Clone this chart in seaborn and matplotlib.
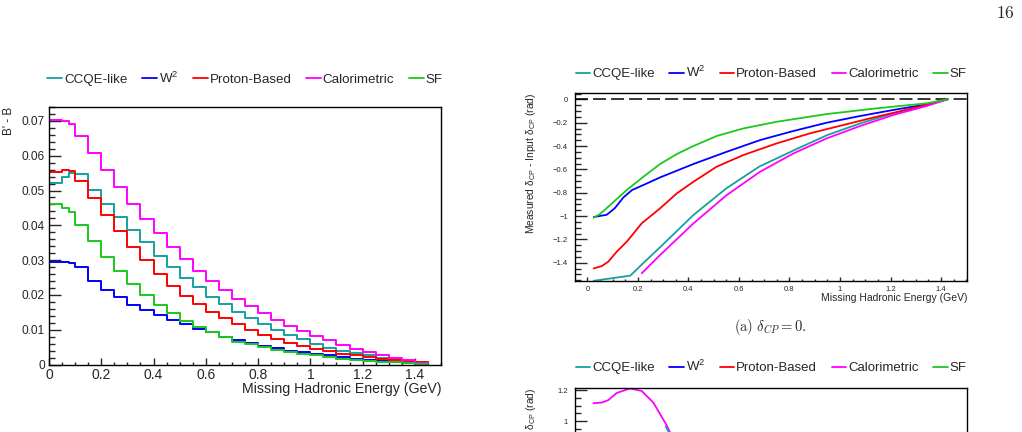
import matplotlib
matplotlib.use("Agg")
import matplotlib.pyplot as plt
from matplotlib.lines import Line2D
from matplotlib.ticker import MultipleLocator, FixedLocator, FuncFormatter
import seaborn as sns

# series names / colours (same order everywhere)
names = ["CCQE-like", r"W$^{\mathregular{2}}$", "Proton-Based", "Calorimetric", "SF"]
colors = ["#17a0a0", "#0000ff", "#ff0000", "#ff00ff", "#1cc81c"]

###############################################################################
# Left panel: B' - B vs missing hadronic energy (histogram bins)
edges = [0.0, 0.05, 0.075, 0.1, 0.15, 0.2, 0.25, 0.3, 0.35, 0.4, 0.45, 0.5,
         0.55, 0.6, 0.65, 0.7, 0.75, 0.8, 0.85, 0.9, 0.95, 1.0, 1.05, 1.1,
         1.15, 1.2, 1.25, 1.3, 1.35, 1.4, 1.45]

ccqe_hist = [0.0521, 0.0540, 0.0550, 0.0548, 0.0502, 0.0461, 0.0423, 0.0386,
             0.0353, 0.0312, 0.0280, 0.0250, 0.0222, 0.0195, 0.0173, 0.0152,
             0.0133, 0.0116, 0.0100, 0.0086, 0.0072, 0.0058, 0.0048, 0.0040,
             0.0032, 0.0026, 0.0020, 0.0015, 0.0011, 0.0006]
w2_hist = [0.0295, 0.0294, 0.0293, 0.0280, 0.0240, 0.0214, 0.0193, 0.0171,
           0.0156, 0.0143, 0.0128, 0.0116, 0.0103, 0.0093, 0.0080, 0.0071,
           0.0063, 0.0053, 0.0047, 0.0040, 0.0035, 0.0031, 0.0027, 0.0021,
           0.0017, 0.0013, 0.0010, 0.0008, 0.0005, 0.0002]
proton_hist = [0.0553, 0.0558, 0.0555, 0.0526, 0.0478, 0.0430, 0.0383, 0.0337,
               0.0301, 0.0260, 0.0227, 0.0197, 0.0173, 0.0150, 0.0133, 0.0116,
               0.0099, 0.0085, 0.0073, 0.0061, 0.0052, 0.0044, 0.0038, 0.0031,
               0.0026, 0.0021, 0.0017, 0.0013, 0.0009, 0.0006]
calo_hist = [0.0704, 0.0701, 0.0691, 0.0658, 0.0609, 0.0560, 0.0510, 0.0462,
             0.0417, 0.0377, 0.0337, 0.0303, 0.0270, 0.0241, 0.0214, 0.0189,
             0.0167, 0.0147, 0.0128, 0.0111, 0.0097, 0.0082, 0.0071, 0.0056,
             0.0045, 0.0035, 0.0027, 0.0019, 0.0012, 0.0005]
sf_hist = [0.0462, 0.0451, 0.0437, 0.0401, 0.0355, 0.0309, 0.0270, 0.0232,
           0.0200, 0.0171, 0.0147, 0.0125, 0.0108, 0.0092, 0.0078, 0.0066,
           0.0058, 0.0050, 0.0042, 0.0037, 0.0031, 0.0026, 0.0021, 0.0017,
           0.0013, 0.0009, 0.0008, 0.0006, 0.0003, 0.0002]

###############################################################################
# Right top panel: bias for delta_CP = 0
ccqe_x = [0.025, 0.17, 0.22, 0.29, 0.42, 0.55, 0.68, 0.82, 0.95, 1.08, 1.21, 1.34, 1.425]
ccqe_y = [-1.555, -1.511, -1.406, -1.263, -0.991, -0.763, -0.577, -0.434, -0.306,
          -0.206, -0.120, -0.049, 0.0]
w2_x = [0.025, 0.077, 0.108, 0.143, 0.177, 0.222, 0.288, 0.42, 0.552, 0.684,
        0.816, 0.948, 1.079, 1.211, 1.343, 1.425]
w2_y = [-1.009, -0.989, -0.934, -0.840, -0.777, -0.734, -0.669, -0.554, -0.449,
        -0.349, -0.271, -0.200, -0.143, -0.091, -0.043, 0.0]
proton_x = [0.025, 0.057, 0.083, 0.116, 0.156, 0.215, 0.288, 0.354, 0.42, 0.512,
            0.618, 0.75, 0.882, 1.013, 1.145, 1.277, 1.425]
proton_y = [-1.449, -1.429, -1.391, -1.306, -1.220, -1.063, -0.934, -0.806, -0.706,
            -0.577, -0.477, -0.377, -0.291, -0.220, -0.149, -0.083, 0.0]
calo_x = [0.215, 0.288, 0.42, 0.552, 0.684, 0.816, 0.948, 1.079, 1.211, 1.343, 1.425]
calo_y = [-1.491, -1.334, -1.063, -0.820, -0.620, -0.463, -0.334, -0.229, -0.134,
          -0.057, 0.0]
sf_x = [0.025, 0.05, 0.09, 0.156, 0.222, 0.288, 0.354, 0.42, 0.512, 0.618, 0.75,
        0.948, 1.145, 1.343, 1.425]
sf_y = [-1.015, -0.983, -0.906, -0.777, -0.663, -0.554, -0.469, -0.400, -0.314,
        -0.249, -0.192, -0.126, -0.077, -0.034, 0.0]

###############################################################################
# Right bottom panel (only its top part is on the page)
calo2_x = [0.024, 0.057, 0.083, 0.116, 0.169, 0.215, 0.261, 0.314, 0.334]
calo2_y = [1.116, 1.120, 1.136, 1.182, 1.211, 1.195, 1.120, 0.973, 0.904]
ccqe2_x = [0.310, 0.336]
ccqe2_y = [0.966, 0.890]
bottom_yticks = [1.0, 1.2]

###############################################################################
sns.set_style("ticks")
plt.rcParams["font.family"] = ["Liberation Sans", "DejaVu Sans"]
plt.rcParams["axes.linewidth"] = 1.0

W, H = 1022, 432
fig = plt.figure(figsize=(W / 100, H / 100), dpi=100)


def px_axes(x0, x1, ytop, ybot):
    return fig.add_axes([x0 / W, 1 - ybot / H, (x1 - x0) / W, (ybot - ytop) / H])


def fmt(v, _):
    s = f"{v:g}"
    return s.replace("-", "\u2212")


def root_axes(ax, xmaj, xmin, ymaj, ymin, xlen, ylen, xsize, ysize, xpad, ypad):
    ax.xaxis.set_major_locator(MultipleLocator(xmaj))
    ax.xaxis.set_minor_locator(MultipleLocator(xmin))
    ax.yaxis.set_major_locator(MultipleLocator(ymaj))
    ax.yaxis.set_minor_locator(MultipleLocator(ymin))
    ax.xaxis.set_major_formatter(FuncFormatter(fmt))
    ax.yaxis.set_major_formatter(FuncFormatter(fmt))
    ax.tick_params(axis="x", which="both", direction="in", top=False, bottom=True,
                   labelsize=xsize, pad=xpad, width=1.0)
    ax.tick_params(axis="y", which="both", direction="in", right=False, left=True,
                   labelsize=ysize, pad=ypad, width=1.0)
    ax.tick_params(axis="x", which="major", length=xlen)
    ax.tick_params(axis="x", which="minor", length=xlen / 2)
    ax.tick_params(axis="y", which="major", length=ylen)
    ax.tick_params(axis="y", which="minor", length=ylen / 2)
    for sp in ax.spines.values():
        sp.set_visible(True)
        sp.set_color("black")


def add_legend(ax, y, size):
    handles = [Line2D([], [], color=c, lw=1.3) for c in colors]
    ax.legend(handles, names, ncol=5, loc="center", bbox_to_anchor=(0.5, y),
              frameon=False, fontsize=size, handlelength=1.1, handletextpad=0.15,
              columnspacing=1.1, borderpad=0, borderaxespad=0)


# ---------------- left panel
ax1 = px_axes(49, 441, 107, 364.5)
centers = [(a + b) / 2 for a, b in zip(edges[:-1], edges[1:])]
for vals, c in zip([ccqe_hist, w2_hist, proton_hist, calo_hist, sf_hist], colors):
    sns.histplot(x=centers, weights=vals, bins=edges, element="step", fill=False,
                 color=c, lw=1.4, ax=ax1)
ax1.set_xlim(0, 1.5)
ax1.set_ylim(0, 0.074)
root_axes(ax1, 0.2, 0.05, 0.01, 0.002, 5, 8.6, 10, 8.6, 2.5, 3)
ax1.set_xlabel("Missing Hadronic Energy (GeV)", fontsize=10.2, loc="right")
ax1.xaxis.set_label_coords(1.0, -0.068)
ax1.set_ylabel("B' - B", fontsize=8.5, loc="top")
ax1.yaxis.set_label_coords(-0.086, 1.0)
add_legend(ax1, 1.113, 9.6)

# ---------------- right top panel
ax2 = px_axes(575, 967.3, 92.7, 281)
for xs, ys, c in zip([ccqe_x, w2_x, proton_x, calo_x, sf_x],
                     [ccqe_y, w2_y, proton_y, calo_y, sf_y], colors):
    sns.lineplot(x=xs, y=ys, color=c, lw=1.3, sort=False, estimator=None, ax=ax2)
ax2.axhline(0, color="black", lw=1.1, dashes=(8.5, 3.3), zorder=1)
ax2.set_xlim(-0.049, 1.504)
ax2.set_ylim(-1.557, 0.057)
root_axes(ax2, 0.2, 0.05, 0.2, 0.05, 3, 8.6, 5.5, 5.5, 3.5, 5)
ax2.set_xlabel("Missing Hadronic Energy (GeV)", fontsize=7.5, loc="right")
ax2.xaxis.set_label_coords(1.0, -0.064)
ylab = r"Measured $\mathregular{\delta_{CP}}$ - Input $\mathregular{\delta_{CP}}$ (rad)"
ax2.set_ylabel(ylab, fontsize=7.4, loc="top")
ax2.yaxis.set_label_coords(-0.094, 1.0)
add_legend(ax2, 1.106, 9.5)

# ---------------- right bottom panel (cut by the page edge)
ax3 = px_axes(575, 967.3, 387.7, 576)
sns.lineplot(x=calo2_x, y=calo2_y, color=colors[3], lw=1.3, sort=False,
             estimator=None, ax=ax3)
sns.lineplot(x=ccqe2_x, y=ccqe2_y, color=colors[0], lw=1.3, sort=False,
             estimator=None, ax=ax3)
ax3.set_xlim(-0.049, 1.504)
ax3.set_ylim(0.0, 1.216)
root_axes(ax3, 0.2, 0.05, 0.2, 0.05, 3, 8.6, 5.5, 5.5, 3.5, 5)
# only the top of this panel is on the page: keep the visible tick labels
ax3.yaxis.set_major_locator(FixedLocator(bottom_yticks))
ax3.tick_params(axis="x", labelbottom=False)
ax3.set_ylabel(ylab, fontsize=7.4, loc="top")
ax3.yaxis.set_label_coords(-0.094, 1.0)
add_legend(ax3, 1.112, 9.5)

# caption and page number
fig.text(770 / W, 1 - 326.7 / H, r"$\mathrm{(a)}\ \delta_{CP} = 0.$",
         ha="center", va="center", fontsize=10.5, math_fontfamily="cm")
fig.text(1015 / W, 1 - 18.3 / H, r"$16$", ha="right", va="baseline",
         fontsize=12.5, math_fontfamily="cm")

fig.savefig("out.png", dpi=100)
